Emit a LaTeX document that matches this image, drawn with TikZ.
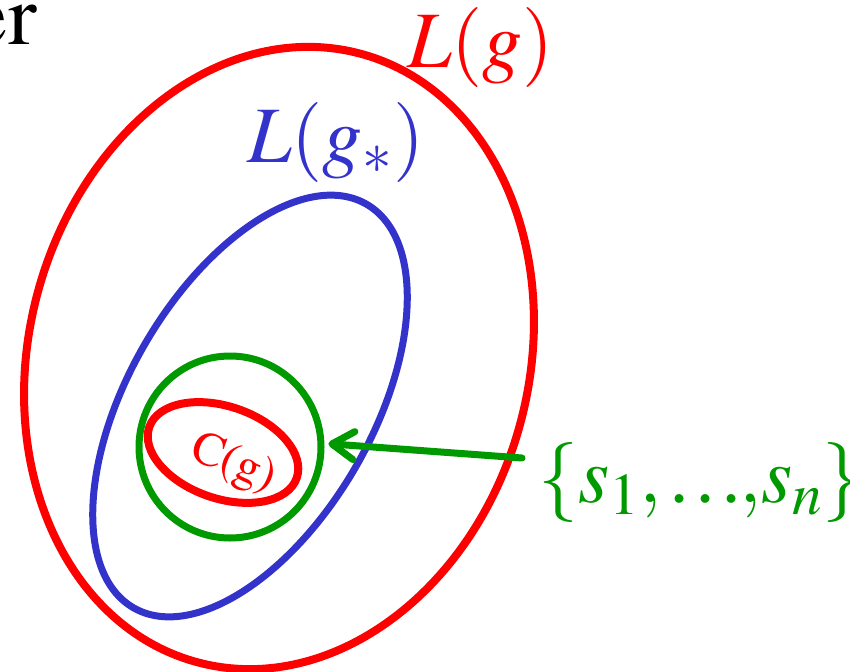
\documentclass[tikz,border=0pt]{standalone}
\usepackage[T1]{fontenc}
\usepackage{mathptmx}
\usetikzlibrary{arrows.meta,shapes.geometric}
\definecolor{myred}{RGB}{255,0,0}
\definecolor{myblue}{RGB}{51,51,204}
\definecolor{mygreen}{RGB}{0,153,0}
\newcommand{\bigfont}{\fontsize{80}{80}\selectfont}
\newcommand{\dotbox}{\makebox[26pt]{.}}
\begin{document}
\begin{tikzpicture}[x=1pt,y=1pt,
  ring/.style={draw, ellipse, inner sep=0pt, outer sep=0pt},
  redring/.style={ring, draw=myred, line width=8pt},
  bluering/.style={ring, draw=myblue, line width=7pt},
  greenring/.style={draw=mygreen, circle, inner sep=0pt, line width=7pt},
  textlabel/.style={anchor=base west, inner sep=0pt, font=\bigfont},
  arrowline/.style={draw=mygreen, line width=7pt, line cap=round,
     -{Straight Barb[length=22pt,width=28pt,round]}}]
\useasboundingbox (0,0) rectangle (850,-671);

\node[redring, minimum width=500pt, minimum height=630pt, rotate=-15] (Lg) at (279,-358) {};
\node[bluering, minimum width=244pt, minimum height=466pt, rotate=-30] (Lgs) at (250,-406) {};
\node[greenring, minimum size=182pt] (circ) at (230,-447) {};
\node[redring, minimum width=156pt, minimum height=92pt, rotate=-19] (Cg) at (223,-452.5) {};

\node[text=myred, rotate=-22, inner sep=0pt, font=\fontsize{48}{48}\selectfont] (cgl) at (233,-465) {C(g)};

\node[textlabel, text=black, anchor=base east, font=\fontsize{86}{86}\selectfont] (er) at (37,-45) {er};
\node[textlabel, text=myred] (lgl) at (407,-68) {$L(g)$};
\node[textlabel, text=myblue] (lgsl) at (247,-162) {$L(g_*)$};

\node[textlabel, text=mygreen] (set) at (538,-502)
  {$\{s_1,\mkern-1mu\mbox{\dotbox\dotbox\dotbox}\mkern-1mu,\mkern-2mu s_n\}$};

\coordinate (astart) at (522,-458);
\draw[arrowline] (astart) -- ([xshift=4pt]circ.2);
\end{tikzpicture}
\end{document}
